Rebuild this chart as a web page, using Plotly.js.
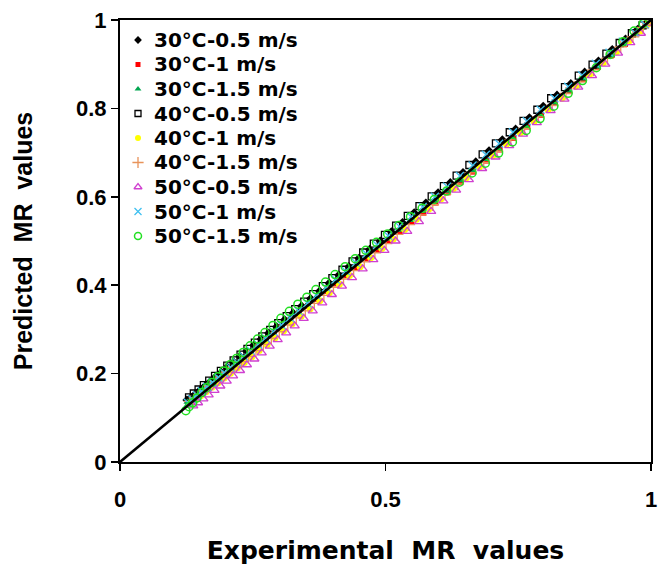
<!DOCTYPE html>
<html><head><meta charset="utf-8">
<script src="https://cdn.plot.ly/plotly-3.0.1.min.js"></script>
<style>html,body{margin:0;padding:0;background:#fff}#chart{width:664px;height:573px}</style>
</head><body><div id="chart"></div>
<script>
const seriesNames = ["30°C-0.5 m/s","30°C-1 m/s","30°C-1.5 m/s","40°C-0.5 m/s","40°C-1 m/s","40°C-1.5 m/s","50°C-0.5 m/s","50°C-1 m/s","50°C-1.5 m/s"];

const x30_05 = [0.126,0.134,0.142,0.151,0.160,0.170,0.180,0.191,0.202,0.214,0.226,0.239,0.252,0.266,0.280,0.295,0.310,0.326,0.342,0.359,0.376,0.394,0.412,0.431,0.450,0.470,0.490,0.511,0.532,0.554,0.576,0.599,0.622,0.646,0.670,0.695,0.720,0.745,0.771,0.797,0.823,0.849,0.875,0.901,0.927,0.952,0.975,0.992,1.000];
const y30_05 = [0.140,0.146,0.154,0.163,0.172,0.182,0.193,0.203,0.215,0.226,0.239,0.251,0.264,0.278,0.292,0.306,0.322,0.337,0.353,0.370,0.387,0.405,0.423,0.442,0.461,0.481,0.500,0.521,0.542,0.564,0.586,0.609,0.632,0.655,0.679,0.704,0.729,0.753,0.779,0.805,0.830,0.856,0.882,0.907,0.933,0.957,0.979,0.994,1.000];

const x30_1 = [0.129,0.137,0.146,0.155,0.165,0.175,0.186,0.197,0.209,0.221,0.234,0.247,0.261,0.275,0.290,0.305,0.321,0.337,0.354,0.371,0.389,0.407,0.426,0.445,0.465,0.485,0.506,0.527,0.549,0.571,0.594,0.617,0.641,0.665,0.690,0.715,0.741,0.767,0.793,0.819,0.846,0.873,0.900,0.926,0.951,0.973,0.990,1.000];
const y30_1 = [0.134,0.141,0.150,0.159,0.169,0.178,0.189,0.200,0.211,0.223,0.236,0.249,0.262,0.276,0.291,0.305,0.321,0.336,0.353,0.369,0.387,0.404,0.423,0.441,0.461,0.480,0.501,0.521,0.543,0.564,0.587,0.610,0.633,0.657,0.682,0.707,0.733,0.759,0.785,0.812,0.839,0.866,0.894,0.921,0.946,0.970,0.988,1.000];

const x30_15 = [0.127,0.135,0.144,0.153,0.163,0.173,0.184,0.195,0.207,0.219,0.232,0.245,0.259,0.273,0.288,0.303,0.319,0.335,0.352,0.369,0.387,0.405,0.424,0.443,0.463,0.483,0.504,0.525,0.547,0.569,0.592,0.615,0.639,0.663,0.688,0.713,0.739,0.765,0.791,0.818,0.845,0.872,0.899,0.925,0.950,0.972,0.990,1.000];
const y30_15 = [0.136,0.143,0.152,0.161,0.170,0.180,0.191,0.201,0.213,0.225,0.237,0.250,0.264,0.278,0.292,0.307,0.323,0.339,0.355,0.372,0.390,0.408,0.426,0.445,0.465,0.484,0.505,0.525,0.547,0.568,0.591,0.613,0.637,0.660,0.685,0.709,0.735,0.760,0.786,0.813,0.840,0.867,0.894,0.920,0.946,0.969,0.988,1.000];

const x40_05 = [0.130,0.139,0.148,0.158,0.168,0.179,0.190,0.202,0.214,0.227,0.240,0.254,0.268,0.283,0.298,0.314,0.330,0.347,0.364,0.382,0.400,0.419,0.438,0.458,0.478,0.499,0.520,0.542,0.564,0.587,0.610,0.634,0.658,0.683,0.708,0.734,0.760,0.786,0.812,0.838,0.864,0.890,0.916,0.941,0.964,0.984,1.000];
const y40_05 = [0.146,0.155,0.164,0.174,0.184,0.195,0.206,0.218,0.230,0.243,0.256,0.270,0.284,0.299,0.314,0.330,0.346,0.363,0.380,0.398,0.416,0.435,0.454,0.474,0.494,0.514,0.535,0.557,0.579,0.601,0.624,0.648,0.672,0.696,0.721,0.746,0.772,0.797,0.823,0.848,0.874,0.899,0.924,0.948,0.970,0.988,1.000];

const x40_1 = [0.133,0.142,0.152,0.162,0.173,0.184,0.196,0.208,0.221,0.234,0.248,0.262,0.277,0.292,0.308,0.324,0.341,0.358,0.376,0.394,0.413,0.432,0.452,0.472,0.493,0.514,0.536,0.558,0.581,0.604,0.628,0.652,0.677,0.702,0.728,0.754,0.780,0.806,0.832,0.858,0.884,0.910,0.935,0.959,0.980,0.995,1.000];
const y40_1 = [0.133,0.141,0.150,0.159,0.169,0.179,0.190,0.201,0.213,0.225,0.238,0.252,0.266,0.281,0.297,0.313,0.330,0.347,0.365,0.383,0.402,0.422,0.442,0.462,0.483,0.504,0.526,0.549,0.572,0.595,0.619,0.643,0.668,0.693,0.719,0.745,0.771,0.797,0.823,0.850,0.876,0.903,0.928,0.953,0.975,0.992,1.000];

const x40_15 = [0.132,0.141,0.150,0.160,0.170,0.181,0.192,0.204,0.216,0.229,0.242,0.256,0.270,0.285,0.300,0.316,0.332,0.349,0.366,0.384,0.402,0.421,0.440,0.460,0.480,0.501,0.522,0.544,0.566,0.589,0.612,0.636,0.660,0.685,0.710,0.736,0.762,0.788,0.814,0.840,0.866,0.892,0.918,0.943,0.966,0.985,1.000];
const y40_15 = [0.137,0.145,0.153,0.162,0.172,0.182,0.192,0.203,0.215,0.227,0.239,0.252,0.266,0.280,0.295,0.310,0.326,0.342,0.359,0.377,0.395,0.414,0.433,0.453,0.473,0.494,0.515,0.537,0.559,0.582,0.606,0.629,0.654,0.678,0.703,0.729,0.755,0.781,0.807,0.834,0.860,0.887,0.913,0.939,0.962,0.983,1.000];

const x50_05 = [0.138,0.147,0.157,0.167,0.178,0.189,0.201,0.213,0.226,0.239,0.253,0.267,0.282,0.297,0.313,0.329,0.346,0.363,0.381,0.399,0.418,0.437,0.457,0.477,0.498,0.519,0.541,0.563,0.586,0.609,0.633,0.657,0.682,0.707,0.733,0.759,0.785,0.811,0.837,0.863,0.889,0.914,0.938,0.961,0.981,1.000];
const y50_05 = [0.127,0.134,0.143,0.152,0.162,0.172,0.183,0.195,0.207,0.220,0.233,0.247,0.262,0.277,0.292,0.308,0.325,0.342,0.360,0.379,0.398,0.417,0.437,0.458,0.479,0.500,0.522,0.544,0.567,0.591,0.615,0.639,0.664,0.690,0.716,0.742,0.768,0.795,0.821,0.848,0.874,0.900,0.925,0.949,0.970,0.993];

const x50_1 = [0.128,0.136,0.145,0.154,0.164,0.174,0.185,0.196,0.208,0.220,0.233,0.246,0.260,0.274,0.289,0.304,0.320,0.336,0.353,0.370,0.388,0.406,0.425,0.444,0.464,0.484,0.505,0.526,0.548,0.570,0.593,0.616,0.640,0.664,0.689,0.714,0.740,0.766,0.792,0.818,0.844,0.870,0.896,0.922,0.947,0.969,0.988,1.000];
const y50_1 = [0.134,0.142,0.151,0.160,0.170,0.180,0.191,0.202,0.214,0.226,0.239,0.252,0.266,0.280,0.295,0.310,0.326,0.342,0.359,0.377,0.395,0.413,0.432,0.451,0.471,0.491,0.512,0.533,0.555,0.577,0.600,0.623,0.647,0.671,0.695,0.720,0.746,0.771,0.797,0.823,0.849,0.875,0.901,0.926,0.951,0.972,0.990,1.000];

const x50_15 = [0.124,0.130,0.137,0.145,0.154,0.163,0.173,0.184,0.195,0.207,0.219,0.232,0.245,0.259,0.273,0.288,0.303,0.319,0.335,0.352,0.369,0.387,0.405,0.424,0.443,0.463,0.483,0.504,0.525,0.547,0.569,0.592,0.615,0.639,0.663,0.688,0.713,0.739,0.765,0.791,0.817,0.844,0.871,0.897,0.923,0.947,0.968,0.985];
const y50_15 = [0.116,0.125,0.134,0.145,0.157,0.168,0.180,0.193,0.206,0.220,0.234,0.248,0.263,0.278,0.293,0.309,0.325,0.341,0.357,0.373,0.390,0.407,0.424,0.442,0.460,0.479,0.497,0.516,0.535,0.555,0.574,0.594,0.613,0.633,0.654,0.676,0.699,0.724,0.750,0.777,0.805,0.834,0.863,0.892,0.922,0.951,0.975,0.992];

const lineX = [0, 1];
const lineY = [0, 1];
const xTickVals = [0, 0.5, 1];
const xTickText = ["0", "0.5", "1"];
const yTickVals = [0, 0.2, 0.4, 0.6, 0.8, 1];
const yTickText = ["0", "0.2", "0.4", "0.6", "0.8", "1"];

const FONT = "Liberation Sans, Arial, sans-serif";
const WIDE = "DejaVu Sans, Verdana, sans-serif";
const xs = [x30_05,x30_1,x30_15,x40_05,x40_1,x40_15,x50_05,x50_1,x50_15];
const ys = [y30_05,y30_1,y30_15,y40_05,y40_1,y40_15,y50_05,y50_1,y50_15];
const markers = [
  {symbol:"diamond", size:7, color:"#000000"},
  {symbol:"square", size:6, color:"#FF0000"},
  {symbol:"triangle-up", size:7, color:"#00A650"},
  {symbol:"square-open", size:7, color:"#000000", line:{color:"#000000", width:1.3}},
  {symbol:"circle", size:7, color:"#FFFF00"},
  {symbol:"cross-thin-open", size:9, color:"#E8935A", line:{color:"#E8935A", width:1.3}},
  {symbol:"triangle-up-open", size:8, color:"#D040D0", line:{color:"#D040D0", width:1.3}},
  {symbol:"x-thin-open", size:8, color:"#40C0F0", line:{color:"#40C0F0", width:1.3}},
  {symbol:"circle-open", size:8, color:"#22E022", line:{color:"#22E022", width:1.5}}
];

// plot area geometry (pixels) used to place the hand-drawn legend
const PL = 120, PR = 651, PT = 20, PB = 462;
const LEG_MARK_PX = 138, LEG_TEXT_PX = 152, LEG_TOP_PX = 40, LEG_STEP_PX = 24.5;
const toX = px => (px - PL) / (PR - PL);
const toY = py => (PB - py) / (PB - PT);

const traces = seriesNames.map((n, i) => ({
  type: "scatter", mode: "markers", name: n, x: xs[i], y: ys[i], marker: markers[i], showlegend: false
}));
traces.push({type:"scatter", mode:"lines", x: lineX, y: lineY, showlegend:false,
  line:{color:"#000000", width:2.5}, hoverinfo:"skip"});
// legend symbols
seriesNames.forEach((n, i) => {
  const m = Object.assign({}, markers[i]);
  m.size = Math.max(5, m.size - 1);
  traces.push({type:"scatter", mode:"markers", x:[toX(LEG_MARK_PX)], y:[toY(LEG_TOP_PX + i*LEG_STEP_PX)],
    marker: m, showlegend:false, hoverinfo:"skip", cliponaxis:false});
});
const annotations = seriesNames.map((n, i) => ({
  xref:"paper", yref:"paper", x: toX(LEG_TEXT_PX), y: toY(LEG_TOP_PX + i*LEG_STEP_PX),
  xanchor:"left", yanchor:"middle", showarrow:false, text: n,
  font:{family: WIDE, size: 20, weight: "bold", color:"#000"}
}));

const layout = {
  width: 664, height: 573,
  margin: {l: PL, r: 664 - PR, t: PT, b: 573 - PB},
  paper_bgcolor: "#ffffff", plot_bgcolor: "#ffffff",
  font: {family: FONT, color: "#000000"},
  showlegend: false,
  annotations: annotations,
  xaxis: {range: [0, 1], tickvals: xTickVals, ticktext: xTickText, ticks: "outside", ticklen: 7, tickwidth: 1.5,
    tickcolor: "#000", showline: true, linecolor: "#000", linewidth: 2, mirror: true, showgrid: false, zeroline: false,
    ticklabelstandoff: 10,
    tickfont: {family: FONT, size: 22, weight: "bold"},
    title: {text: "Experimental  MR  values", font: {family: WIDE, size: 25, weight: "bold"}, standoff: 30}},
  yaxis: {range: [0, 1], tickvals: yTickVals, ticktext: yTickText, ticks: "outside", ticklen: 7, tickwidth: 1.5,
    tickcolor: "#000", showline: true, linecolor: "#000", linewidth: 2, mirror: true, showgrid: false, zeroline: false,
    tickfont: {family: FONT, size: 22, weight: "bold"},
    title: {text: "Predicted  MR  values", font: {family: FONT, size: 25, weight: "bold"}, standoff: 36}}
};
Plotly.newPlot("chart", traces, layout, {displayModeBar: false, staticPlot: true});
</script></body></html>
